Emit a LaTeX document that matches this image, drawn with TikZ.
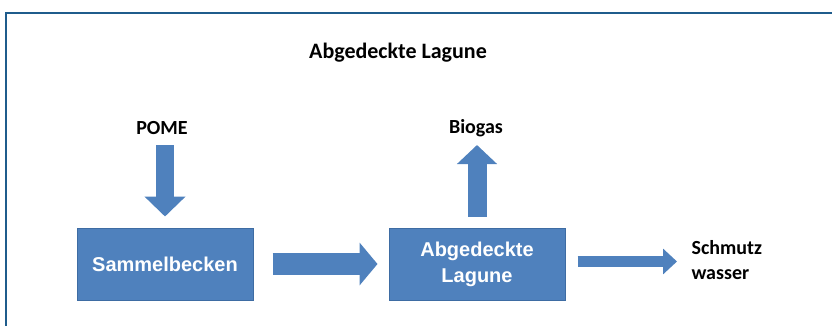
\documentclass[tikz,border=0pt]{standalone}
\usepackage{fontspec}
\usepackage{tikz}
\usetikzlibrary{arrows.meta, positioning}

\newfontfamily\calibrifont{Carlito}
\newfontfamily\arialfont{Liberation Sans}
\definecolor{boxblue}{HTML}{4F81BD}
\definecolor{boxedge}{HTML}{3E6CA3}
\definecolor{frameblue}{HTML}{1F5C8C}

\begin{document}
\begin{tikzpicture}[x=1pt,y=-1pt,on grid,
    box/.style={draw=boxedge, fill=boxblue, line width=1pt, minimum width=176pt,
      minimum height=72pt, text=white, align=center,
      font=\arialfont\bfseries\fontsize{20}{26}\selectfont},
    lbl/.style={font=\calibrifont\bfseries\fontsize{20}{25}\selectfont},
    fat/.style n args={3}{boxblue, line width=#1, -{Triangle[length=#2,width=#3]}}]
      \useasboundingbox (0,0) rectangle (832,325);
      \draw[frameblue, line width=2.5pt] (6,330) |- (840,13);

      \node[lbl, font=\calibrifont\bfseries\fontsize{22}{26}\selectfont] (titel) at (398,53) {Abgedeckte Lagune};
      \node[box] (sammel) at (165,264) {Sammelbecken};
      \node[box] (lagune) [right=312pt of sammel] {Abgedeckte\\Lagune};
      \node[lbl] (pome) at (162,128) {POME};
      \node[lbl] (biogas) at (476,128) {Biogas};
      \node[lbl, anchor=west, align=left] (schmutz) at (688,260) {Schmutz\\wasser};
      \coordinate (pomein) at (165,145);
      \coordinate (gasout) at (477,145);
      \coordinate (wasserout) at (677,261.5);

      \draw[fat={18pt}{20pt}{40pt}, shorten >=11pt] (pomein) -- (sammel.north);
      \draw[fat={22pt}{18pt}{42pt}, shorten <=19pt, shorten >=11pt] (sammel) -- (lagune);
      \draw[fat={19pt}{19pt}{39pt}, shorten <=11pt] (lagune.north) -- (gasout);
      \draw[fat={11pt}{14pt}{25pt}, shorten <=12pt] ([yshift=2.5pt]lagune.east) -- (wasserout);
    \end{tikzpicture}
\end{document}
